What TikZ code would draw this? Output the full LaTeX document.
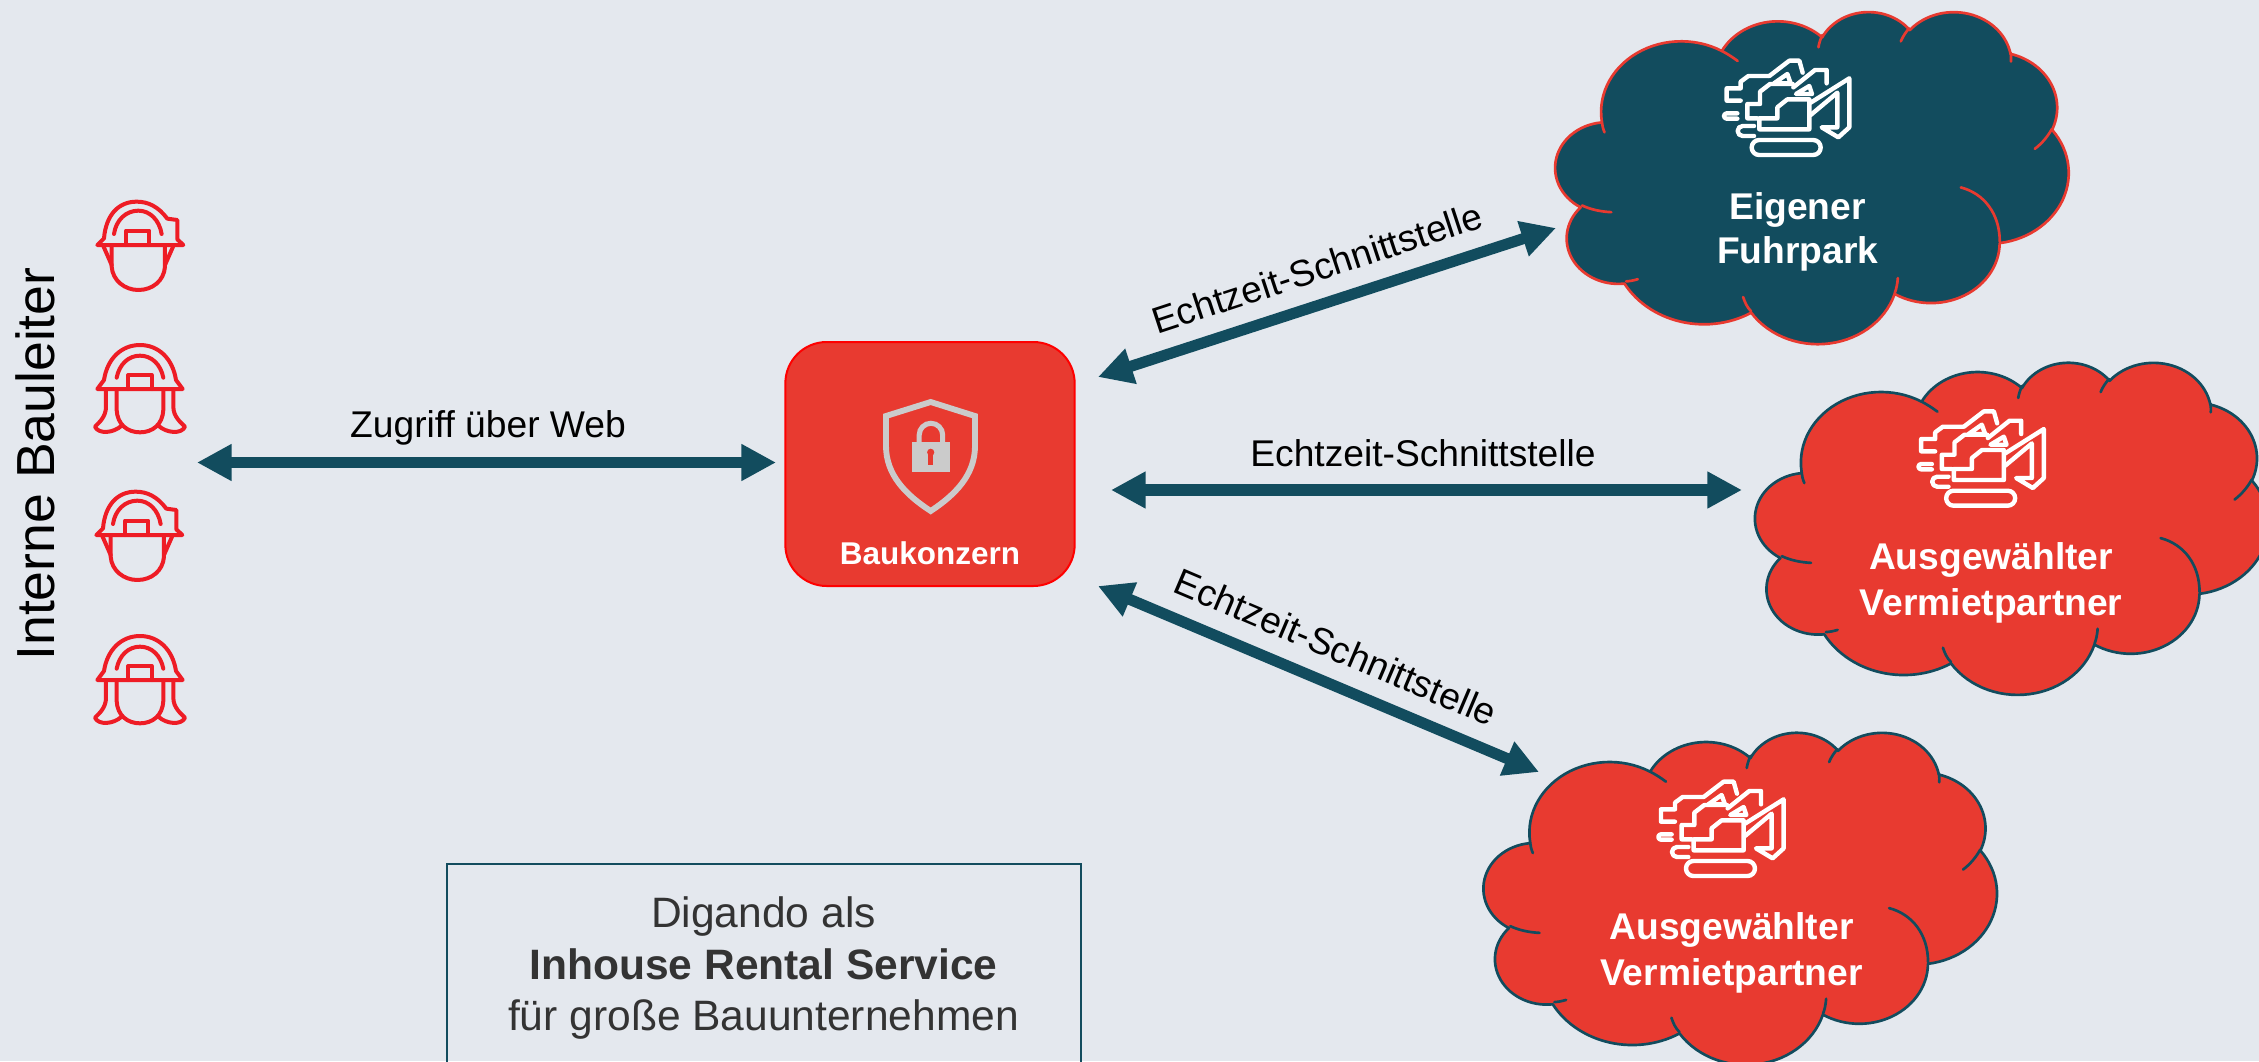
\documentclass[tikz,border=0pt]{standalone}
\usepackage{fontspec}
\setmainfont{Liberation Sans}
\usetikzlibrary{arrows.meta}
\definecolor{bgc}{HTML}{E4E8EE}
\definecolor{tealc}{HTML}{124C5E}
\definecolor{redc}{HTML}{E83A30}
\definecolor{iconred}{HTML}{EE1C25}
\definecolor{shieldc}{HTML}{CBCBCB}
\definecolor{txtc}{HTML}{333333}
% --- cloud outline (DrawingML style elliptical arcs, in units of 1000 on a 43.2 square)
\gdef\cloudsegs{(3.9,14.37)}
\gdef\curx{3.9}\gdef\cury{14.37}
\newcommand\arcseg[4]{%
  \pgfmathsetmacro\tA{atan2(#1*sin(#3),#2*cos(#3))}%
  \pgfmathsetmacro\tB{atan2(#1*sin(#3+#4),#2*cos(#3+#4))}%
  \pgfmathsetmacro\tB{\tB<\tA ? \tB+360 : \tB}%
  \pgfmathsetmacro\cenx{\curx-#1*cos(\tA)}%
  \pgfmathsetmacro\ceny{\cury-#2*sin(\tA)}%
  \foreach \i in {1,...,30}{%
    \pgfmathsetmacro\tt{\tA+(\tB-\tA)*\i/30}%
    \pgfmathsetmacro\px{\cenx+#1*cos(\tt)}%
    \pgfmathsetmacro\py{\ceny+#2*sin(\tt)}%
    \xdef\cloudsegs{\cloudsegs -- (\px,\py)}%
    \xdef\curx{\px}\xdef\cury{\py}%
  }%
}
\arcseg{6.753}{9.190}{-190.4875}{123.7805}
\arcseg{5.333}{7.267}{-144.1024}{89.9452}
\arcseg{4.365}{5.945}{-145.8079}{99.7230}
\arcseg{4.857}{6.595}{-130.9861}{117.2417}
\arcseg{5.333}{7.273}{-78.7089}{109.0269}
\arcseg{6.775}{9.220}{-46.2673}{130.2690}
\arcseg{5.785}{7.867}{0.6250}{114.0333}
\arcseg{6.752}{9.215}{22.4516}{115.1726}
\arcseg{7.720}{10.543}{66.2426}{75.7110}
\arcseg{4.360}{5.918}{-274.9421}{146.7356}
\arcseg{4.345}{5.945}{-246.8285}{152.5189}
\tikzset{
  px/.style={x=0.75pt,y=-0.75pt},
  dblarrow/.style={draw=tealc,line width=8.3pt,{Triangle[length=26pt,width=26pt]}-{Triangle[length=26pt,width=26pt]}},
  lbl/.style={font=\fontsize{27.9pt}{33pt}\selectfont,text=black,inner sep=0pt},
  cloudlbl/.style={font=\bfseries\fontsize{27.9pt}{33pt}\selectfont,text=white,inner sep=0pt,anchor=base},
  infolbl/.style={font=\fontsize{31.9pt}{38pt}\selectfont,text=txtc,inner sep=0pt,anchor=base},
  icon/.style={line width=3.3pt,draw=white,line join=round,line cap=round},
  worker/.style={line width=3pt,draw=iconred,line join=round,line cap=round},
}
\newcommand\cloudshape[4]{% x y fill stroke
  \begin{scope}[shift={(#1,#2)},xscale=11.875,yscale=7.685]
    \draw[fill=#3,draw=#4,line width=2pt,line join=round] \cloudsegs -- cycle;
    \draw[draw=#4,line width=2pt,line cap=round]
      (2.233,25.304) .. controls (3.0,25.85) and (3.8,26.1) .. (4.693,26.177)
      (5.945,35.183) .. controls (6.3,35.15) and (6.6,35.05) .. (6.928,34.899)
      (16.478,39.09) .. controls (16.1,38.5) and (15.95,37.9) .. (15.8,37.22)
      (28.827,34.751) .. controls (28.8,35.4) and (28.72,36.1) .. (28.565,36.7)
      (34.129,22.954) .. controls (36.1,23.75) and (37.41,26.4) .. (37.41,29.985)
      (41.798,15.354) .. controls (41.5,16.2) and (41.0,17.2) .. (40.358,17.938)
      (38.324,5.426) .. controls (38.36,5.8) and (38.37,6.2) .. (38.358,6.586)
      (29.078,3.952) .. controls (29.25,3.3) and (29.5,2.75) .. (29.776,2.253)
      (22.141,4.72) .. controls (22.2,4.15) and (22.32,3.6) .. (22.475,3.12)
      (14.0,5.192) .. controls (14.45,5.55) and (14.9,6.0) .. (15.337,6.5)
      (3.9,14.37) .. controls (3.92,14.85) and (4.0,15.3) .. (4.127,15.789);
  \end{scope}}
\newcommand\excavator[2]{% origin
  \begin{scope}[shift={(#1,#2)},scale=0.3333]
    \draw[icon] (122,152) -- (80,152) -- (80,115) -- (122,115) -- (122,95) -- (145,78) -- (205,78);
    \draw[icon] (208,78) -- (268,32) -- (298,32) -- (308,68);
    \draw[icon] (222,100) -- (262,72) -- (272,100) -- cycle;
    \draw[icon] (172,205) -- (142,205) -- (142,162) -- (180,162) -- (180,125) -- (210,102) -- (278,102);
    \draw[icon] (280,112) -- (345,60) -- (380,60) -- (380,100);
    \draw[icon] (288,132) -- (328,108) -- (336,132) -- cycle;
    \draw[icon] (178,238) -- (328,238) -- (328,148) -- (262,148) -- (232,172) -- (232,205) -- (178,205) -- cycle;
    \draw[icon] (332,195) -- (412,128) -- (412,232) -- (365,232) -- (415,262) -- (448,232) -- (448,85) -- (332,158);
    \draw[icon] (112,190) -- (80,190) arc[start angle=90,delta angle=180,radius=6pt] -- (112,206);
    \draw[icon] (162,228) -- (128,228) arc[start angle=90,delta angle=180,radius=11.25pt] -- (162,258);
    \draw[icon,rounded corners=5.6pt] (155,270) rectangle (362,315);
  \end{scope}}
\newcommand\manworker[2]{%
  \begin{scope}[shift={(#1,#2)},scale=0.3333]
    \draw[worker] (22,165) -- (280,165) -- (262,148) -- (262,90) -- (232,86)
       .. controls (205,50) and (175,35) .. (140,35)
       .. controls (85,35) and (48,75) .. (42,145) -- cycle;
    \draw[worker] (72,132) .. controls (78,90) and (108,62) .. (145,62) .. controls (180,62) and (208,90) .. (215,132);
    \draw[worker] (108,165) -- (108,122) -- (178,122) -- (178,165);
    \draw[worker] (65,165) -- (65,230) .. controls (68,272) and (105,300) .. (145,300) .. controls (188,300) and (222,272) .. (225,230) -- (225,165);
    \draw[worker] (40,168) -- (65,225) (250,168) -- (225,225);
  \end{scope}}
\newcommand\womanworker[2]{%
  \begin{scope}[shift={(#1,#2)},scale=0.3333]
    \draw[worker] (22,162) -- (278,162) -- (258,135) .. controls (248,70) and (205,30) .. (150,30)
       .. controls (95,30) and (52,70) .. (42,135) -- cycle;
    \draw[worker] (80,128) .. controls (88,88) and (115,62) .. (150,62) .. controls (185,62) and (212,88) .. (220,128);
    \draw[worker] (115,162) -- (115,120) -- (185,120) -- (185,162);
    \draw[worker] (80,162) -- (80,225) .. controls (82,268) and (112,292) .. (150,292) .. controls (188,292) and (218,268) .. (220,225) -- (220,162);
    \draw[worker] (48,162) -- (48,215) .. controls (48,245) and (28,262) .. (15,275)
       .. controls (25,298) and (70,295) .. (95,272);
    \draw[worker] (250,162) -- (250,215) .. controls (250,245) and (272,262) .. (285,275)
       .. controls (275,298) and (230,295) .. (205,272);
  \end{scope}}
\begin{document}
\begin{tikzpicture}[px]
  \useasboundingbox (0,0) rectangle (2259,1061);
  \clip (0,0) rectangle (2259,1061);
  \fill[bgc] (0,0) rectangle (2259,1061);

  % workers
  \manworker{90}{190}
  \womanworker{90}{335}
  \manworker{89}{480}
  \womanworker{90}{626}
  \node[lbl,font=\fontsize{40.2pt}{46pt}\selectfont,rotate=90] (interne) at (35,464) {Interne Bauleiter};

  % central box
  \node[draw=red,fill=redc,line width=1.5pt,rounded corners=31pt,minimum width=217pt,minimum height=183pt,inner sep=0pt] (bau) at (930,464) {};
  \draw[shieldc,line width=4.4pt,line join=miter] (930.7,402) -- (975,416) -- (975,446)
     .. controls (975,475) and (955,495) .. (930.7,511)
     .. controls (906,495) and (886,475) .. (886,446) -- (886,416) -- cycle;
  \fill[shieldc] (911.7,441.7) rectangle (950,472.3);
  \draw[shieldc,line width=3.8pt] (919.2,442) -- (919.2,435) arc[start angle=180,end angle=0,radius=8.8pt] -- (942.6,442);
  \fill[redc] (930.7,452.3) circle[radius=2.7pt];
  \fill[redc] (928,453) rectangle (933.4,464.5);
  \node[font=\bfseries\fontsize{23.6pt}{30pt}\selectfont,text=white,inner sep=0pt,anchor=base] (baulbl) at (930,564) {Baukonzern};

  % clouds
  \cloudshape{1555.5}{11}{tealc}{redc}
  \cloudshape{1755.3}{361.7}{redc}{tealc}
  \cloudshape{1483.8}{731.7}{redc}{tealc}
  \excavator{1700}{50}
  \excavator{1894.5}{400.7}
  \excavator{1634.3}{771}
  \node[cloudlbl] (c1a) at (1797.6,219) {Eigener};
  \node[cloudlbl] (c1b) at (1797.6,263) {Fuhrpark};
  \node[cloudlbl] (c2a) at (1991,569) {Ausgewählter};
  \node[cloudlbl] (c2b) at (1991,615) {Vermietpartner};
  \node[cloudlbl] (c3a) at (1731.5,939) {Ausgewählter};
  \node[cloudlbl] (c3b) at (1731.5,985) {Vermietpartner};

  % connector ends
  \coordinate (pleft) at (197,462.5);
  \coordinate (pbau) at (776,462.5);
  \coordinate (a2s) at (1098,377);
  \coordinate (a2e) at (1556,228);
  \coordinate (a3s) at (1111,490);
  \coordinate (a3e) at (1742,490);
  \coordinate (a4s) at (1098,586);
  \coordinate (a4e) at (1539,772);
  \draw[dblarrow] (pleft) -- (pbau);
  \draw[dblarrow] (a2s) -- (a2e);
  \draw[dblarrow] (a3s) -- (a3e);
  \draw[dblarrow] (a4s) -- (a4e);
  \node[lbl,anchor=base] (web) at (488,437) {Zugriff über Web};
  \node[lbl,rotate=18.2] (e1) at (1317,268) {Echtzeit-Schnittstelle};
  \node[lbl,anchor=base] (e2) at (1423,466) {Echtzeit-Schnittstelle};
  \node[lbl,rotate=-23] (e3) at (1336,647) {Echtzeit-Schnittstelle};

  % info box
  \node[draw=tealc,line width=1.5pt,minimum width=475.5pt,minimum height=300pt,inner sep=0pt] (info) at (763.5,1064) {};
  \node[infolbl] (i1) at (763.5,927.7) {Digando als};
  \node[infolbl,font=\bfseries\fontsize{31.9pt}{38pt}\selectfont] (i2) at (763.5,979) {Inhouse Rental Service};
  \node[infolbl] (i3) at (763.5,1030.7) {für große Bauunternehmen};
\end{tikzpicture}
\end{document}
